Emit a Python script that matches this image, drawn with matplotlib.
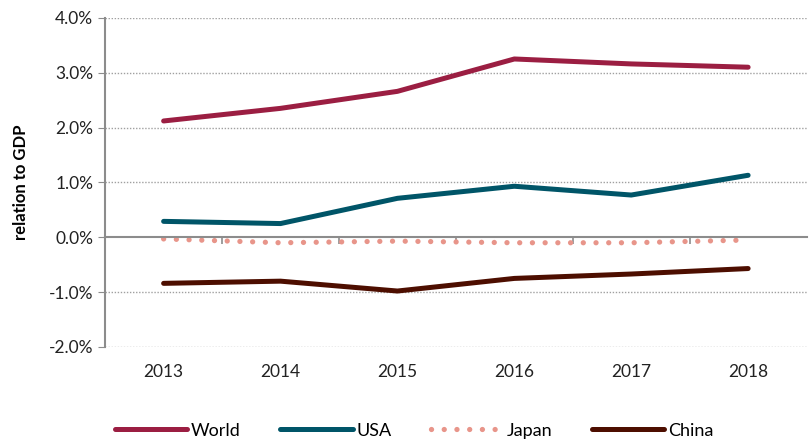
import matplotlib.pyplot as plt
from matplotlib.ticker import FuncFormatter

plt.rcParams['font.family'] = ['Lato', 'DejaVu Sans']

years = ['2013', '2014', '2015', '2016', '2017', '2018']
world = [2.12, 2.35, 2.66, 3.25, 3.16, 3.10]
usa = [0.29, 0.25, 0.71, 0.93, 0.77, 1.13]
japan = [-0.03, -0.10, -0.07, -0.10, -0.10, -0.05]
china = [-0.84, -0.80, -0.98, -0.75, -0.67, -0.57]

fig = plt.figure(figsize=(8.09, 4.46), dpi=100)
ax = fig.add_axes([0.13, 0.222, 0.867, 0.738])

x = range(len(years))
lw = 3.6
ax.plot(x, world, color='#9B1E42', lw=lw, solid_capstyle='round', label='World')
ax.plot(x, usa, color='#005568', lw=lw, solid_capstyle='round', label='USA')
ax.plot(x, japan, color='#E8958A', lw=3.8, linestyle=(0, (0.01, 2.4)),
        dash_capstyle='round', label='Japan')
ax.plot(x, china, color='#4D0E00', lw=lw, solid_capstyle='round', label='China')

ax.set_xlim(-0.5, len(years) - 0.5)
ax.set_ylim(-2.0, 4.0)
ax.set_yticks([-2, -1, 0, 1, 2, 3, 4])
ax.yaxis.set_major_formatter(FuncFormatter(lambda v, p: f'{v:.1f}%'))
ax.tick_params(axis='y', length=5, color='#8c8c8c', labelsize=12.5, labelcolor='#222222')
for v in [-2, -1, 1, 2, 3, 4]:
    ax.axhline(v, color='#a0a0a0', lw=1.0, linestyle=(0, (1, 1.2)), zorder=0)

for s in ['top', 'right']:
    ax.spines[s].set_visible(False)
ax.spines['left'].set_color('#8c8c8c')
ax.spines['left'].set_linewidth(1.5)
ax.spines['bottom'].set_position(('data', 0))
ax.spines['bottom'].set_color('#8c8c8c')
ax.spines['bottom'].set_linewidth(1.5)
ax.set_xticks([i + 0.5 for i in range(len(years) - 1)])
ax.set_xticklabels([])
ax.tick_params(axis='x', length=5, color='#8c8c8c', width=1.2)

sec = ax.secondary_xaxis(0.0)
sec.set_xticks(list(x))
sec.set_xticklabels(years)
sec.tick_params(length=0, labelsize=12.5, labelcolor='#222222', pad=12)
sec.spines['bottom'].set_visible(False)

ax.set_ylabel('relation to GDP', fontsize=12, fontweight='bold', labelpad=14)

fig.legend(loc='lower center', bbox_to_anchor=(0.512, -0.02), ncol=4, frameon=False,
           fontsize=13, handlelength=4.0, columnspacing=2.2, handletextpad=0.2)

fig.savefig('out.png', dpi=100)
